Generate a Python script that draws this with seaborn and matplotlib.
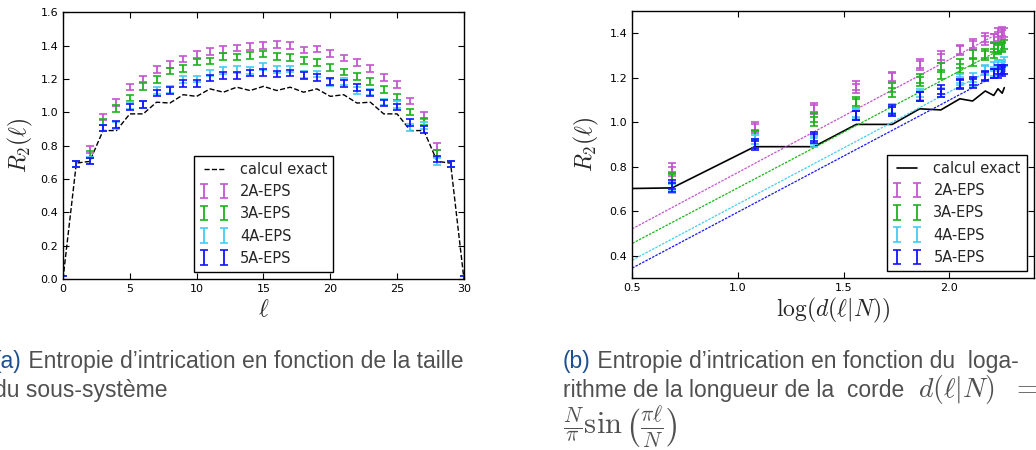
import numpy as np
import pandas as pd
import matplotlib
matplotlib.use("Agg")
import matplotlib.pyplot as plt
import seaborn as sns

# --- donnees ---
N = 30
ell = list(range(0, 31))

r2_2A = [0.0, 0.69, 0.777, 0.971, 1.057, 1.151, 1.199, 1.255, 1.286, 1.320, 1.346,
         1.366, 1.378, 1.386, 1.394, 1.402, 1.408, 1.402, 1.374, 1.380, 1.354,
         1.326, 1.298, 1.262, 1.207, 1.165, 1.067, 0.979, 0.795, 0.69, 0.0]
r2_3A = [0.0, 0.69, 0.747, 0.941, 1.021, 1.085, 1.155, 1.197, 1.247, 1.264, 1.302,
         1.308, 1.334, 1.332, 1.340, 1.350, 1.336, 1.328, 1.310, 1.298, 1.270,
         1.242, 1.215, 1.183, 1.135, 1.091, 1.001, 0.945, 0.751, 0.69, 0.0]
r2_4A = [0.0, 0.69, 0.710, 0.905, 0.920, 1.039, 1.047, 1.131, 1.135, 1.197, 1.200,
         1.235, 1.250, 1.257, 1.250, 1.274, 1.257, 1.260, 1.227, 1.230, 1.180,
         1.185, 1.131, 1.121, 1.061, 1.045, 0.907, 0.921, 0.703, 0.69, 0.0]
r2_5A = [0.0, 0.69, 0.707, 0.905, 0.925, 1.031, 1.047, 1.115, 1.131, 1.171, 1.173,
         1.205, 1.219, 1.219, 1.235, 1.237, 1.229, 1.235, 1.219, 1.209, 1.185,
         1.173, 1.147, 1.115, 1.055, 1.031, 0.937, 0.895, 0.719, 0.69, 0.0]
r2_err = [0.02, 0.02, 0.02, 0.02]

exact = [0.0, 0.695, 0.705, 0.89, 0.89, 0.99, 0.99, 1.06, 1.055, 1.105, 1.095,
         1.14, 1.12, 1.15, 1.13, 1.155, 1.13, 1.15, 1.12, 1.14, 1.095,
         1.105, 1.055, 1.06, 0.99, 0.99, 0.89, 0.89, 0.705, 0.695, 0.0]

# log(d(l|N)) pour l = 1..15
log_d = [0.0, 0.69, 1.08, 1.36, 1.56, 1.73, 1.86, 1.96, 2.05, 2.11, 2.17, 2.21, 2.23, 2.25, 2.26]

# ajustements lineaires (panneau b)
fit_intercept = [0.267, 0.205, 0.128, 0.093]
fit_slope = [0.507, 0.500, 0.504, 0.503]

labels = ["2A-EPS", "3A-EPS", "4A-EPS", "5A-EPS"]
colors = ["#c455d2", "#1db41d", "#45ccf5", "#1414ff"]
series = [r2_2A, r2_3A, r2_4A, r2_5A]

# --- style ---
sns.set_style("ticks")
plt.rcParams["font.family"] = ["DejaVu Sans"]
plt.rcParams["mathtext.fontset"] = "cm"
plt.rcParams.update({
    "xtick.direction": "in", "ytick.direction": "in",
    "xtick.top": True, "ytick.right": True,
    "xtick.major.size": 4, "ytick.major.size": 4,
    "axes.edgecolor": "black", "axes.linewidth": 1.0,
    "xtick.color": "black", "ytick.color": "black",
})

fig = plt.figure(figsize=(10.36, 4.5), dpi=100)
ax1 = fig.add_axes([0.0608, 0.380, 0.387, 0.593])
ax2 = fig.add_axes([0.610, 0.382, 0.388, 0.594])

eb_kw = dict(fmt="none", capsize=3.2, elinewidth=1.3, capthick=1.2)

# --- (a) R2 en fonction de l ---
df_a = pd.DataFrame({"ell": ell, "exact": exact})
sns.lineplot(data=df_a, x="ell", y="exact", ax=ax1, color="black", lw=1.0,
             linestyle="--", label="calcul exact")
for s, c, lab, e in zip(series, colors, labels, r2_err):
    ax1.errorbar(ell, s, yerr=e, ecolor=c, label=lab, **eb_kw)
ax1.set_xlim(0, 30)
ax1.set_ylim(0, 1.6)
ax1.set_xticks(range(0, 31, 5))
ax1.set_yticks(np.arange(0, 1.61, 0.2))
ax1.set_xlabel(r"$\ell$", fontsize=17, labelpad=2)
ax1.set_ylabel(r"$R_2(\ell)$", fontsize=17, labelpad=4)
ax1.tick_params(labelsize=8)

# --- (b) R2 en fonction de log d ---
ell_b = list(range(1, 30))
x_b = [log_d[min(l, N - l) - 1] for l in ell_b]
df_b = pd.DataFrame({"logd": log_d, "exact": exact[1:16]})
sns.lineplot(data=df_b, x="logd", y="exact", ax=ax2, color="black", lw=1.2,
             label="calcul exact")
for a, b, c in zip(fit_intercept, fit_slope, colors):
    xf = [0.0, log_d[-1]]
    sns.lineplot(x=xf, y=[a + b * xf[0], a + b * xf[1]], ax=ax2, color=c,
                 lw=0.9, dashes=False, linestyle=(0, (2, 1)))
for s, c, lab, e in zip(series, colors, labels, r2_err):
    ax2.errorbar(x_b, s[1:30], yerr=e, ecolor=c, label=lab, **eb_kw)
ax2.set_xlim(0.5, 2.4)
ax2.set_ylim(0.3, 1.5)
ax2.set_xticks([0.5, 1.0, 1.5, 2.0])
ax2.set_yticks([0.4, 0.6, 0.8, 1.0, 1.2, 1.4])
ax2.set_xlabel(r"$\log(d(\ell|N))$", fontsize=17, labelpad=2)
ax2.set_ylabel(r"$R_2(\ell)$", fontsize=17, labelpad=6)
ax2.tick_params(labelsize=8)

for ax, loc in [(ax1, "lower center"), (ax2, "lower right")]:
    leg = ax.legend(loc=loc, numpoints=2, fontsize=10.5, frameon=True, fancybox=False,
                    borderaxespad=0.5, handlelength=2.0)
    leg.get_frame().set_edgecolor("black")
    leg.get_frame().set_linewidth(1.0)
    leg.get_frame().set_alpha(1)

# --- legendes sous les figures ---
gray = "#505050"
blue = "#1d4f91"
W, H = 1036, 450
fs = 16.5
cap = dict(family=["Liberation Sans", "DejaVu Sans"], ha="left")


def after(artist, text, size, color=gray):
    # texte place juste a droite d'un autre texte
    return ax1.annotate(text, xy=(1, 0), xycoords=artist, va="bottom", color=color,
                        fontsize=size, annotation_clip=False, **cap)


# (a)
ta = fig.text(-6 / W, 1 - 368 / H, "(a)", color=blue, fontsize=fs, va="baseline", **cap)
after(ta, " Entropie d\u2019intrication en fonction de la taille", fs)
fig.text(-6 / W, 1 - 397 / H, "du sous-syst\u00e8me", color=gray, fontsize=fs,
         va="baseline", **cap)

# (b)
tb = fig.text(563 / W, 1 - 368 / H, "(b)", color=blue, fontsize=fs, va="baseline", **cap)
after(tb, " Entropie d\u2019intrication en fonction du  loga-", fs)
fig.text(563 / W, 1 - 397 / H, "rithme de la longueur de la  corde", color=gray,
         fontsize=fs, va="baseline", **cap)
fig.text(918 / W, 1 - 397 / H, r"$d(\ell|N)\ \ =$", color=gray, fontsize=20,
         va="baseline", **cap)
fig.text(563 / W, 1 - 434 / H, r"$\frac{N}{\pi}\sin\left(\frac{\pi\ell}{N}\right)$",
         color=gray, fontsize=22, va="baseline", **cap)

fig.savefig("out.png", dpi=100)
